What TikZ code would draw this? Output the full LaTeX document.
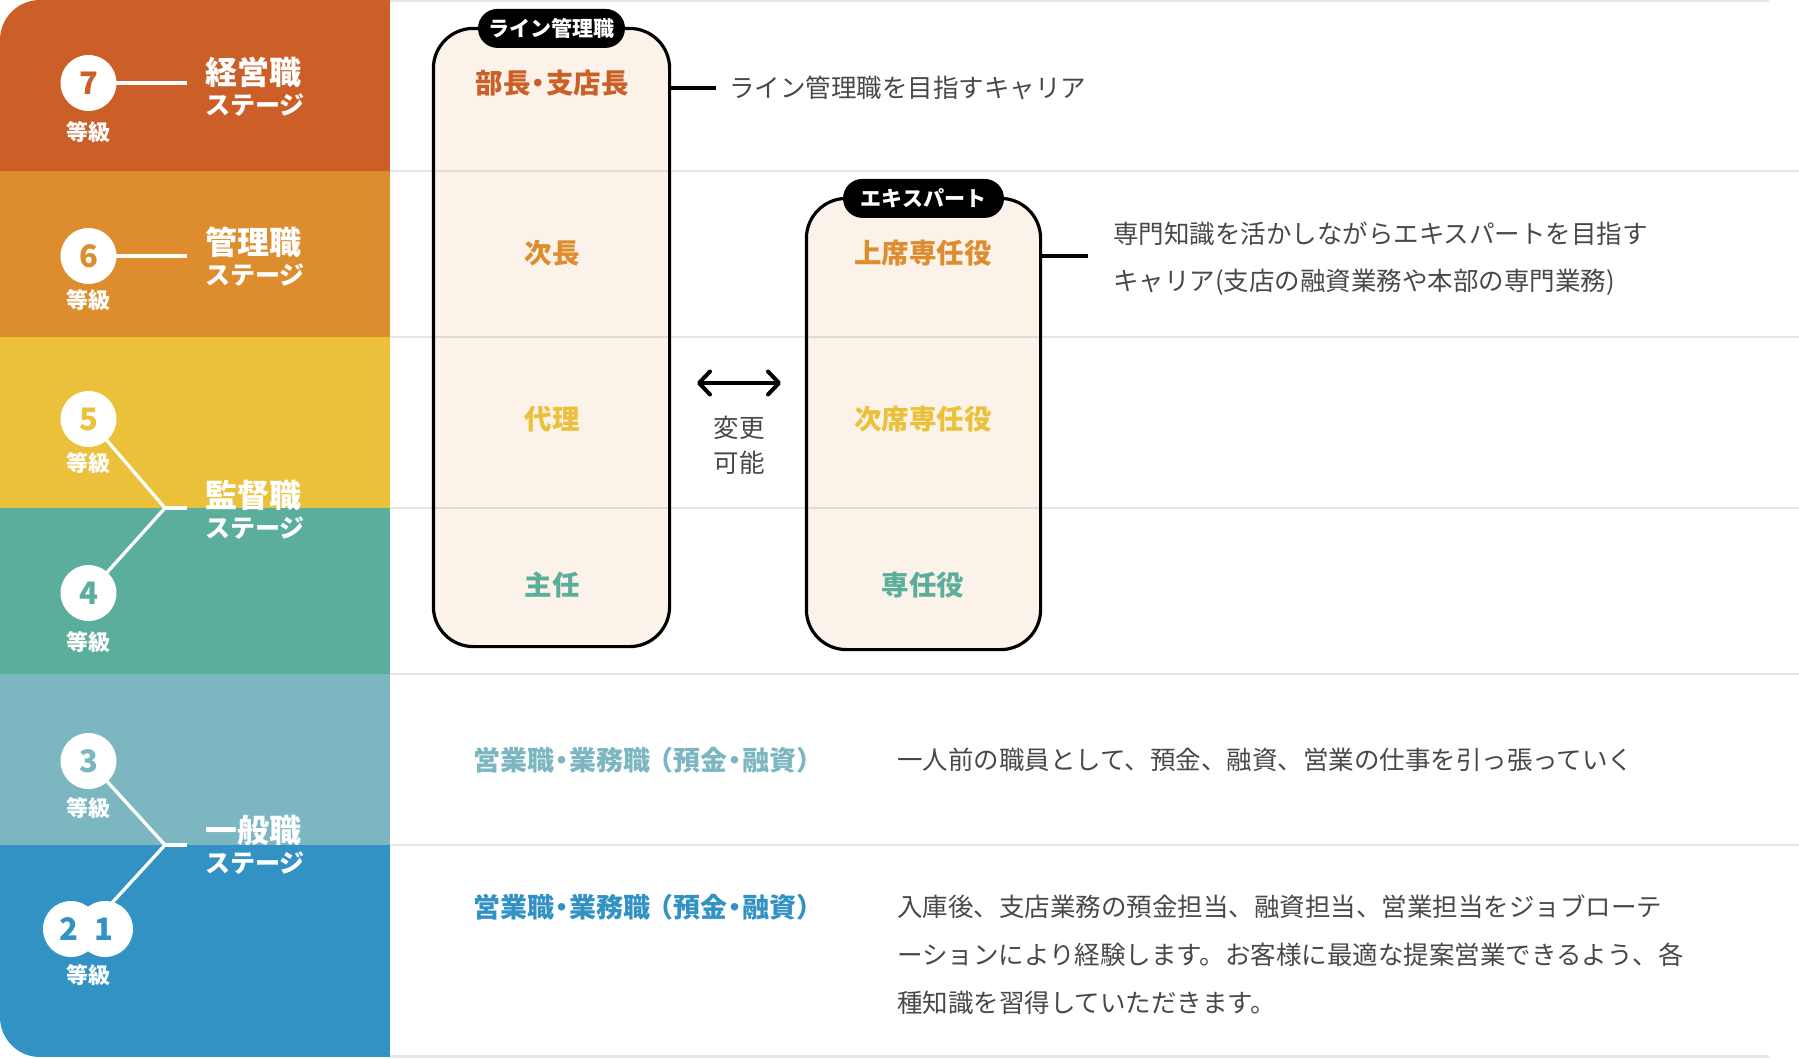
\documentclass[tikz,border=0pt]{standalone}
\usepackage{fontspec}
\setmainfont{Noto Sans CJK JP}
\usetikzlibrary{arrows.meta}
\definecolor{cA}{HTML}{CB5F27}
\definecolor{cB}{HTML}{DE8D2E}
\definecolor{cC}{HTML}{EBC03A}
\definecolor{cD}{HTML}{5CAE9C}
\definecolor{cE}{HTML}{7BB6C1}
\definecolor{cF}{HTML}{3392C4}
\definecolor{boxfill}{HTML}{FBF3EA}
\definecolor{gridgrey}{HTML}{E6E6E6}
\definecolor{textgrey}{HTML}{484848}
\newcommand{\ndot}{\kern-6pt・\kern-6pt}
\begin{document}
\begin{tikzpicture}[x=1pt,y=-1pt,
  circ/.style={circle, fill=white, minimum size=56pt, inner sep=0pt, font=\bfseries\fontsize{31}{31}\selectfont},
  grade/.style={inner sep=0pt, text=white, font=\bfseries\fontsize{22}{22}\selectfont},
  stagebig/.style={anchor=west, inner sep=0pt, text=white, font=\bfseries\fontsize{32}{32}\selectfont},
  stagesub/.style={anchor=west, inner sep=0pt, text=white, font=\bfseries\fontsize{25}{25}\selectfont},
  wline/.style={draw=white, line width=3.3pt},
  gline/.style={draw=gridgrey, line width=2.5pt},
  boxbg/.style={fill=boxfill, rounded corners=40pt, inner sep=0pt},
  boxline/.style={draw=black, line width=3.2pt, rounded corners=40pt},
  tagbox/.style={fill=black, text=white, rounded corners=19.5pt, minimum height=39pt, inner sep=0pt, font=\bfseries\fontsize{21}{21}\selectfont},
  rank/.style={inner sep=0pt, font=\bfseries\fontsize{27.5}{27.5}\selectfont},
  joblabel/.style={inner sep=0pt, anchor=west, font=\bfseries\fontsize{27}{27}\selectfont},
  desc/.style={anchor=west, inner sep=0pt, text=textgrey, font=\fontsize{25.5}{25.5}\selectfont},
  conn/.style={draw=black, line width=3.2pt},
  swaparrow/.style={draw=black, line width=4pt, {Straight Barb[length=11pt,width=23pt,line cap=round,line join=round]}-{Straight Barb[length=11pt,width=23pt,line cap=round,line join=round]}},
]
\useasboundingbox (0,0) rectangle (1799,1058);

% ---------- left coloured panel ----------
\begin{scope}
  \clip[rounded corners=40pt] (0,0) rectangle (440,1057);
  \fill[cA] (0,0) rectangle (390,171);
  \fill[cB] (0,171) rectangle (390,337);
  \fill[cC] (0,337) rectangle (390,508);
  \fill[cD] (0,508) rectangle (390,674);
  \fill[cE] (0,674) rectangle (390,845);
  \fill[cF] (0,845) rectangle (390,1057);
\end{scope}

% ---------- career boxes (fill) ----------
\node[boxbg, minimum width=235.8pt, minimum height=617.8pt] (linebox) at (551.5,337.5) {};
\node[boxbg, minimum width=233.8pt, minimum height=450.8pt] (expbox) at (923.5,424) {};

% ---------- grid lines ----------
\begin{scope}[blend mode=multiply]
  \draw[gline] (390,1.2) -- (1769,1.2);
  \draw[gline] (390,171) -- (1799,171);
  \draw[gline] (390,337) -- (1799,337);
  \draw[gline] (390,508) -- (1799,508);
  \draw[gline] (390,674) -- (1799,674);
  \draw[gline] (390,845) -- (1799,845);
  \draw[gline] (390,1056.5) -- (1769,1056.5);
\end{scope}

% ---------- career boxes (border) ----------
\draw[boxline] (linebox.north west) rectangle (linebox.south east);
\draw[boxline] (expbox.north west) rectangle (expbox.south east);
\node[tagbox, minimum width=147pt] (tagline) at (linebox.north) {ライン管理職};
\node[tagbox, minimum width=161pt] (tagexp) at (expbox.north) {エキスパート};

% ---------- ranks inside boxes ----------
\node[rank, text=cA] (r1) at (552,83) {部長\ndot 支店長};
\node[rank, text=cB] (r2) at (552,253) {次長};
\node[rank, text=cC] (r3) at (552,419) {代理};
\node[rank, text=cD] (r4) at (552,585) {主任};
\node[rank, text=cB] (e1) at (923,253) {上席専任役};
\node[rank, text=cC] (e2) at (923,419) {次席専任役};
\node[rank, text=cD] (e3) at (923,585) {専任役};

% ---------- change arrow ----------
\coordinate (al) at (697,383);
\coordinate (ar) at (781,383);
\draw[swaparrow] (al) -- (ar);
\node[inner sep=0pt, text=textgrey, font=\fontsize{25.5}{25.5}\selectfont] (chg1) at (739,428) {変更};
\node[inner sep=0pt, text=textgrey, font=\fontsize{25.5}{25.5}\selectfont] (chg2) at (739,463) {可能};

% ---------- connectors and descriptions ----------
\coordinate (lend) at (716,88);
\draw[conn] (lend -| linebox.east) -- (lend);
\node[desc] (d1) at (729,88) {ライン管理職を目指すキャリア};
\coordinate (eend) at (1088,256);
\draw[conn] (eend -| expbox.east) -- (eend);
\node[desc] (d2) at (1113,234) {専門知識を活かしながらエキスパートを目指す};
\node[desc] (d3) at (1113,282) {キャリア(支店の融資業務や本部の専門業務)};

\node[joblabel, text=cE] (g1) at (473,760) {営業職\ndot 業務職\kern-4pt（預金\ndot 融資）};
\node[joblabel, text=cF] (g2) at (473,907) {営業職\ndot 業務職\kern-4pt（預金\ndot 融資）};
\node[desc] (d4) at (897,760) {一人前の職員として、預金、融資、営業の仕事を引っ張っていく};
\node[desc] (d5) at (897,907) {入庫後、支店業務の預金担当、融資担当、営業担当をジョブローテ};
\node[desc] (d6) at (897,955) {ーションにより経験します。お客様に最適な提案営業できるよう、各};
\node[desc] (d7) at (897,1003) {種知識を習得していただきます。};

% ---------- grade lines ----------
\coordinate (p7) at (88.5,83);
\coordinate (p6) at (88.5,256);
\coordinate (p5) at (88.5,419);
\coordinate (p4) at (88.5,593);
\coordinate (p3) at (88.5,761);
\coordinate (p21) at (88,929);
\coordinate (e7) at (187,83);
\coordinate (e6) at (187,256);
\coordinate (j54) at (165,508);
\coordinate (j54e) at (187,508);
\coordinate (j31) at (165,845);
\coordinate (j31e) at (187,845);
\draw[wline] (p7) -- (e7);
\draw[wline] (p6) -- (e6);
\draw[wline, line join=miter] (p5) -- (j54) -- (p4);
\draw[wline] (j54) -- (j54e);
\draw[wline, line join=miter] (p3) -- (j31) -- (p21);
\draw[wline] (j31) -- (j31e);

% ---------- grade circles ----------
\node[circ, text=cA] (g7) at (p7) {7};
\node[circ, text=cB] (g6) at (p6) {6};
\node[circ, text=cC] (g5) at (p5) {5};
\node[circ, text=cD] (g4) at (p4) {4};
\node[circ, text=cE] (g3) at (p3) {3};
\node[circ] (g2c) at (71,929) {};
\node[circ] (g1c) at (105,929) {};
\node[inner sep=0pt, text=cF, font=\bfseries\fontsize{31}{31}\selectfont] (n2) at (68.5,929) {2};
\node[inner sep=0pt, text=cF, font=\bfseries\fontsize{31}{31}\selectfont] (n1) at (103.5,929) {1};

\node[grade] (k7) at (88.5,132) {等級};
\node[grade] (k6) at (88.5,300) {等級};
\node[grade] (k5) at (88.5,463) {等級};
\node[grade] (k4) at (88.5,642) {等級};
\node[grade] (k3) at (88.5,808) {等級};
\node[grade] (k21) at (88.5,975) {等級};

% ---------- stage labels ----------
\node[stagebig] (s7) at (205,72) {経営職};
\node[stagesub] (s7b) at (205,105) {ステージ};
\node[stagebig] (s6) at (205,242) {管理職};
\node[stagesub] (s6b) at (205,275) {ステージ};
\node[stagebig] (s5) at (205,495) {監督職};
\node[stagesub] (s5b) at (205,528) {ステージ};
\node[stagebig] (s3) at (205,830) {一般職};
\node[stagesub] (s3b) at (205,863) {ステージ};
\end{tikzpicture}
\end{document}
